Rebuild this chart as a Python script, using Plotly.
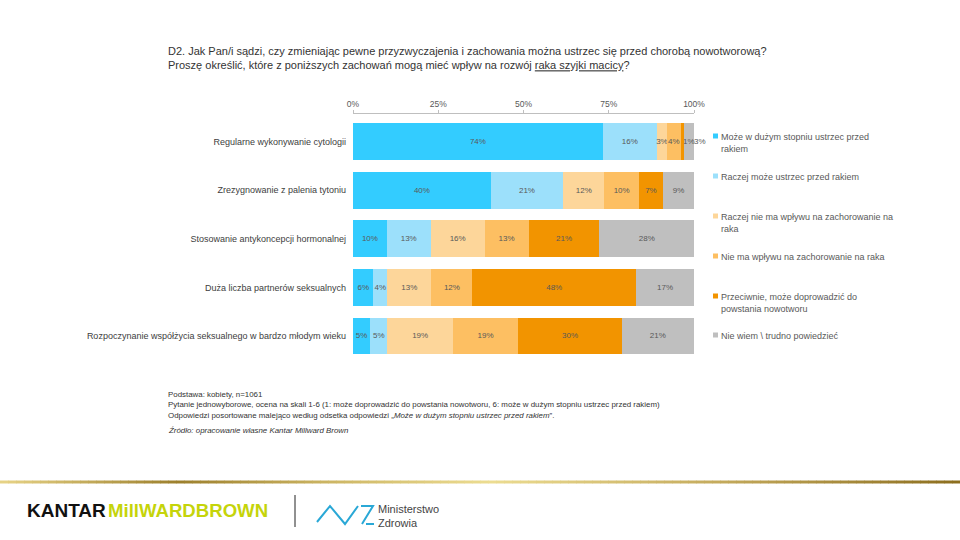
import plotly.graph_objects as go

# ---------------- data ----------------
categories = [
    "Regularne wykonywanie cytologii",
    "Zrezygnowanie z palenia tytoniu",
    "Stosowanie antykoncepcji hormonalnej",
    "Duża liczba partnerów seksualnych",
    "Rozpoczynanie współżycia seksualnego w bardzo młodym wieku",
]
series_names = [
    "Może w dużym stopniu ustrzec przed<br>rakiem",
    "Raczej może ustrzec przed rakiem",
    "Raczej nie ma wpływu na zachorowanie na<br>raka",
    "Nie ma wpływu na zachorowanie na raka",
    "Przeciwnie, może doprowadzić do<br>powstania nowotworu",
    "Nie wiem \\ trudno powiedzieć",
]
s_duzy = [74, 40, 10, 6, 5]
s_raczej_moze = [16, 21, 13, 4, 5]
s_raczej_nie = [3, 12, 16, 13, 19]
s_nie_ma = [4, 10, 13, 12, 19]
s_przeciwnie = [1, 7, 21, 48, 30]
s_nie_wiem = [3, 9, 28, 17, 21]
series_values = [s_duzy, s_raczej_moze, s_raczej_nie, s_nie_ma, s_przeciwnie, s_nie_wiem]
tick_vals = [0, 25, 50, 75, 100]
tick_labels = ["0%", "25%", "50%", "75%", "100%"]

colors = ["#33CCFF", "#9CE0FB", "#FDD69A", "#FDBF62", "#F29400", "#BFBFBF"]

# ---------------- geometry helpers ----------------
L, R, T, B = 353, 694, 114, 363
W, H = 960, 540


def px(x):
    return (x - L) / (R - L)


def py(y):
    return (B - y) / (B - T)


label_font = dict(family="Liberation Sans", size=8, color="#595959")

# the two narrowest segments of the first row get their labels placed beside them
moved = {(4, 0): "start", (5, 0): "end"}

fig = go.Figure()
for k, (name, vals, col) in enumerate(zip(series_names, series_values, colors)):
    texts = ["" if (k, i) in moved else f"{v}%" for i, v in enumerate(vals)]
    fig.add_trace(go.Bar(
        y=categories, x=vals, orientation="h", name=name,
        marker=dict(color=col, line=dict(width=0)),
        text=texts, textposition="inside",
        insidetextanchor="middle", textangle=0, constraintext="none",
        textfont=label_font,
        hoverinfo="skip", showlegend=False,
    ))

shapes = []
annotations = []

# labels of the narrow segments in row 1, positioned through the data scale
for (k, i), where in moved.items():
    row_total = sum(s[i] for s in series_values)
    upto = k if where == "start" else k + 1
    xpos = sum(series_values[j][i] for j in range(upto)) / row_total * 100
    annotations.append(dict(xref="x", yref="y", x=xpos, y=categories[i],
                            xanchor="left", yanchor="middle", showarrow=False,
                            xshift=-2 if where == "end" else 0,
                            text=f"{series_values[k][i]}%", font=label_font))

# legend (manual, to reproduce fixed spacing)
legend_y = [136, 176, 216, 256, 296, 335]
for name, col, ly in zip(series_names, colors, legend_y):
    shapes.append(dict(type="rect", xref="paper", yref="paper",
                       x0=px(713), x1=px(718), y0=py(ly + 2.5), y1=py(ly - 2.5),
                       fillcolor=col, line=dict(width=0)))
    annotations.append(dict(xref="paper", yref="paper", x=px(719), y=py(ly - 6.5),
                            xanchor="left", yanchor="top", align="left",
                            text=name, showarrow=False,
                            font=dict(family="Liberation Sans", size=9, color="#595959")))

# title
annotations.append(dict(xref="paper", yref="paper", x=px(166), y=py(43),
                        xanchor="left", yanchor="top", align="left", showarrow=False,
                        text=("D2. Jak Pan/i sądzi, czy zmieniając pewne przyzwyczajenia i zachowania można ustrzec się przed chorobą nowotworową?<br>"
                              "Proszę określić, które z poniższych zachowań mogą mieć wpływ na rozwój "
                              "<span style='text-decoration:underline'>raka szyjki macicy</span>?"),
                        font=dict(family="Liberation Sans", size=11, color="#333333")))

# footnotes
annotations.append(dict(xref="paper", yref="paper", x=px(166), y=py(388),
                        xanchor="left", yanchor="top", align="left", showarrow=False,
                        text=("Podstawa: kobiety, n=1061<br>"
                              "Pytanie jednowyborowe, ocena na skali 1-6 (1: może doprowadzić do powstania nowotworu, 6: może w dużym stopniu ustrzec przed rakiem)<br>"
                              "Odpowiedzi posortowane malejąco według odsetka odpowiedzi „<i>Może w dużym stopniu ustrzec przed rakiem</i>”."),
                        font=dict(family="Liberation Sans", size=7.9, color="#333333")))
annotations.append(dict(xref="paper", yref="paper", x=px(166), y=py(430),
                        xanchor="left", yanchor="middle", align="left", showarrow=False,
                        text="<i>Źródło: opracowanie własne Kantar Millward Brown</i>",
                        font=dict(family="Liberation Sans", size=7.9, color="#333333")))

# gold gradient line at the bottom
stops = [(0, (232, 212, 135)), (178, (156, 127, 44)), (330, (205, 182, 100)),
         (490, (236, 220, 145)), (720, (196, 170, 92)), (960, (140, 110, 30))]


def gold(x):
    for (x0, c0), (x1, c1) in zip(stops[:-1], stops[1:]):
        if x0 <= x <= x1:
            t = (x - x0) / (x1 - x0)
            return "rgb(%d,%d,%d)" % tuple(round(a + (b - a) * t) for a, b in zip(c0, c1))
    return "rgb(140,110,30)"


seg = 8
for x0 in range(0, W, seg):
    shapes.append(dict(type="rect", xref="paper", yref="paper",
                       x0=px(x0), x1=px(x0 + seg + 0.5), y0=py(483.5), y1=py(480.5),
                       fillcolor=gold(x0 + seg / 2), line=dict(width=0), layer="above"))

# logos
annotations.append(dict(xref="paper", yref="paper", x=px(25), y=py(511),
                        xanchor="left", yanchor="middle", showarrow=False,
                        text="<b>KANTAR</b>",
                        font=dict(family="Liberation Sans", size=19, color="#111111")))
annotations.append(dict(xref="paper", yref="paper", x=px(106), y=py(511),
                        xanchor="left", yanchor="middle", showarrow=False,
                        text="<b>MillWARDBROWN</b>",
                        font=dict(family="Liberation Sans", size=18.6, color="#C5D40A")))
shapes.append(dict(type="line", xref="paper", yref="paper",
                   x0=px(295), x1=px(295), y0=py(495), y1=py(527),
                   line=dict(color="#222222", width=1)))
# Ministerstwo Zdrowia mark
zig = [(317, 522), (330, 506), (345, 524), (358, 506)]
path = "M " + " L ".join(f"{px(a)},{py(b)}" for a, b in zig)
shapes.append(dict(type="path", xref="paper", yref="paper", path=path,
                   line=dict(color="#2AA8D6", width=2)))
zpath = "M " + " L ".join(f"{px(a)},{py(b)}" for a, b in [(361, 506), (373, 506), (362, 524)])
shapes.append(dict(type="path", xref="paper", yref="paper", path=zpath,
                   line=dict(color="#2AA8D6", width=2)))
shapes.append(dict(type="line", xref="paper", yref="paper",
                   x0=px(366), x1=px(374), y0=py(524), y1=py(524),
                   line=dict(color="#2AA8D6", width=2)))
annotations.append(dict(xref="paper", yref="paper", x=px(376), y=py(516),
                        xanchor="left", yanchor="middle", align="left", showarrow=False,
                        text="Ministerstwo<br>Zdrowia",
                        font=dict(family="Liberation Sans", size=11, color="#444444")))

fig.update_layout(
    width=W, height=H,
    margin=dict(l=L, r=W - R, t=T, b=H - B, pad=0),
    barmode="stack", barnorm="percent", bargap=0.24,
    plot_bgcolor="white", paper_bgcolor="white",
    showlegend=False,
    uniformtext=dict(minsize=8, mode="show"),
    xaxis=dict(side="top", range=[0, 100], tickvals=tick_vals, ticktext=tick_labels,
               showgrid=False, zeroline=False, showline=True, linecolor="#BFBFBF",
               linewidth=1, ticks="outside", ticklen=3, tickcolor="#BFBFBF",
               tickfont=dict(family="Liberation Sans", size=8.5, color="#595959"),
               fixedrange=True),
    yaxis=dict(categoryorder="array", categoryarray=categories,
               range=[4.556, -0.566], showgrid=False, zeroline=False, showline=False,
               ticks="", ticklabelstandoff=6,
               tickfont=dict(family="Liberation Sans", size=9, color="#404040"),
               fixedrange=True),
    shapes=shapes, annotations=annotations,
)

fig.write_html("out.html", config={"displayModeBar": False, "staticPlot": True},
               post_script="document.body.style.margin='0';")
